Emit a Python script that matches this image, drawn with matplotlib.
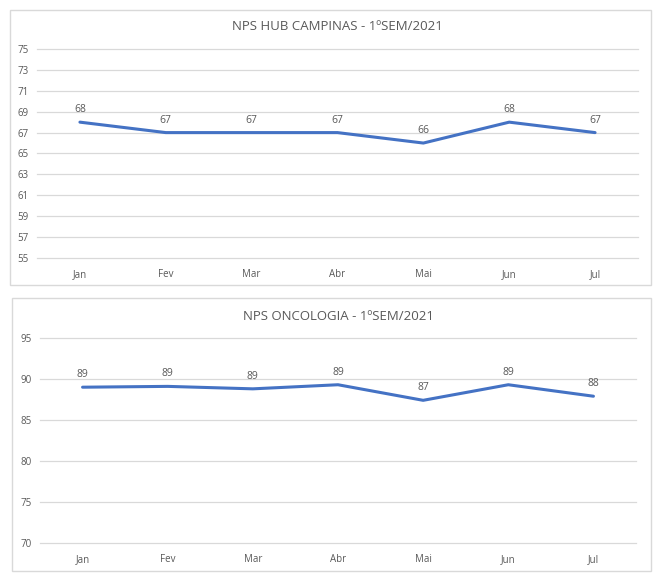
import matplotlib
matplotlib.use("Agg")
import matplotlib.pyplot as plt
from matplotlib.patches import Rectangle

plt.rcParams["font.family"] = ["Open Sans", "DejaVu Sans"]

meses = ["Jan", "Fev", "Mar", "Abr", "Mai", "Jun", "Jul"]

campinas_titulo = "NPS HUB CAMPINAS - 1ºSEM/2021"
campinas_nps = [68, 67, 67, 67, 66, 68, 67]
campinas_yticks = list(range(55, 76, 2))

oncologia_titulo = "NPS ONCOLOGIA - 1ºSEM/2021"
oncologia_nps = [89.0, 89.1, 88.8, 89.3, 87.4, 89.3, 87.9]
oncologia_yticks = [70, 75, 80, 85, 90, 95]

W, H = 664, 581
LINHA = "#4472C4"
GRADE = "#d9d9d9"
TEXTO = "#595959"


def px_axes(fig, x0, y0, x1, y1):
    # pixel coords from top-left -> figure fraction
    return fig.add_axes([x0 / W, 1 - y1 / H, (x1 - x0) / W, (y1 - y0) / H])


def box(fig, x0, y0, x1, y1):
    fig.patches.append(Rectangle((x0 / W, 1 - y1 / H), (x1 - x0) / W, (y1 - y0) / H,
                                 transform=fig.transFigure, fill=False,
                                 edgecolor=GRADE, linewidth=1))


def desenha(ax, titulo, valores, yticks, title_y, fig):
    x = list(range(len(meses)))
    ax.plot(x, valores, color=LINHA, linewidth=2.2, solid_capstyle="round")
    for xi, v in zip(x, valores):
        ax.annotate(f"{v:.0f}", (xi, v), xytext=(0, 5), textcoords="offset points",
                    ha="center", va="bottom", fontsize=7.5, color=TEXTO)
    ax.set_xlim(-0.5, len(meses) - 0.5)
    ax.set_ylim(yticks[0], yticks[-1])
    ax.set_yticks(yticks)
    ax.set_xticks(x)
    ax.set_xticklabels(meses)
    ax.grid(axis="y", color=GRADE, linewidth=0.9)
    for gl in ax.yaxis.get_gridlines():
        gl.set_clip_on(False)
    ax.set_axisbelow(True)
    for s in ax.spines.values():
        s.set_visible(False)
    ax.tick_params(length=0, labelsize=7, colors=TEXTO)
    ax.tick_params(axis="x", pad=8)
    ax.tick_params(axis="y", pad=6)
    fig.text(ax.get_position().x0 + ax.get_position().width / 2, 1 - title_y / H, titulo,
             ha="center", va="center", fontsize=9.5, color=TEXTO)


fig = plt.figure(figsize=(W / 100, H / 100), dpi=100)

box(fig, 10, 10, 651, 285)
ax1 = px_axes(fig, 37, 49, 638, 258)
desenha(ax1, campinas_titulo, campinas_nps, campinas_yticks, 27, fig)

box(fig, 12, 298, 651, 571)
ax2 = px_axes(fig, 40, 338, 636, 543)
desenha(ax2, oncologia_titulo, oncologia_nps, oncologia_yticks, 316, fig)

fig.savefig("out.png", dpi=100)
